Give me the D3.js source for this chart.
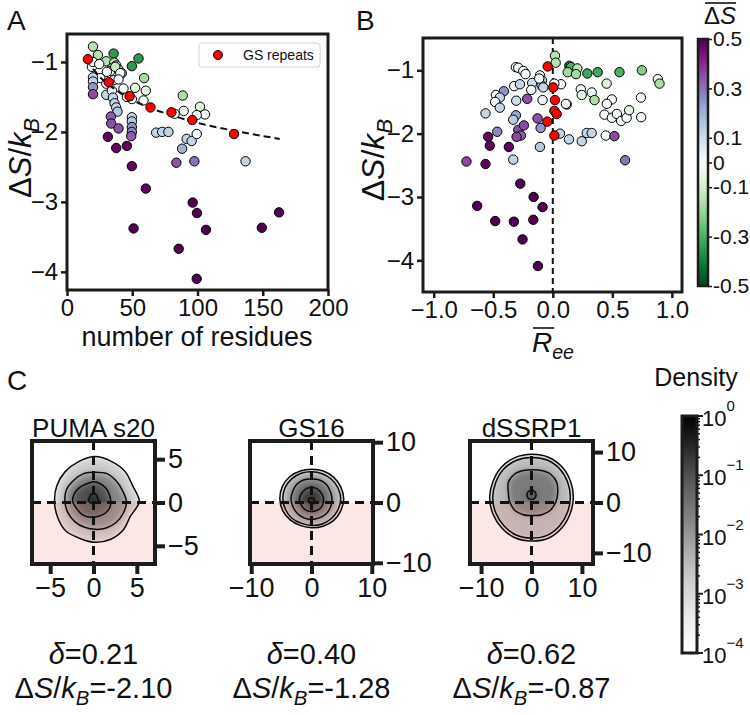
<!DOCTYPE html>
<html><head><meta charset="utf-8">
<script src="https://cdn.jsdelivr.net/npm/d3@7/dist/d3.min.js"></script>
<style>
html,body{margin:0;padding:0;background:#fff;}
svg text{font-family:"Liberation Sans",Arial,Helvetica,sans-serif;fill:#111;}
</style></head><body>
<svg id="chart" width="750" height="715"></svg>
<script>
// ================= DATA =================
// Panel A: [number of residues, ΔS/kB, colour value ΔS̄]
const pointsA = [
 [19.9,-0.78,-0.15],[23.7,-0.90,-0.15],[35.7,-0.88,-0.35],[54.8,-0.95,-0.35],[49.7,-1.06,-0.35],
 [30.1,-0.99,-0.15],[36.2,-1.01,-0.15],[37.7,-1.05,-0.15],[34.4,-1.09,-0.12],[33.1,-1.13,0],
 [39.5,-1.11,-0.15],[42.0,-1.16,-0.15],[59.1,-1.23,-0.18],[52.2,-1.37,-0.06],[60.4,-1.41,-0.06],
 [88.7,-1.48,-0.17],[101.9,-1.64,-0.07],[105.7,-1.75,0],[89.4,-1.70,0],[99.4,-1.76,0],
 [82.5,-1.74,0],[58.6,-1.55,0],[49.7,-1.53,0],[45.9,-1.50,0],[43.3,-1.38,0],
 [25.5,-1.23,0],[19.1,-1.07,0],[19.9,-1.00,0],[24.7,-1.03,0],[30.6,-1.14,0],
 [35.7,-1.26,0],[30.1,-1.31,0],[19.9,-1.22,0.12],[19.9,-1.28,0.12],[19.9,-1.36,0.25],
 [19.9,-1.46,0.36],[30.1,-1.47,0.12],[34.4,-1.41,0.02],[35.2,-1.51,0.12],[36.4,-1.59,0.12],
 [37.7,-1.65,0.12],[38.7,-1.71,0.15],[33.6,-1.78,0.33],[33.9,-1.88,0.35],[39.5,-1.95,0.35],
 [31.3,-2.07,0.48],[37.7,-2.23,0.48],[45.9,-2.20,0.48],[49.7,-1.79,0.12],[49.7,-1.85,0.15],
 [49.7,-1.93,0.25],[49.7,-2.00,0.27],[49.2,-2.06,0.33],[49.7,-2.49,0.48],[60.4,-2.81,0.48],
 [51.0,-3.38,0.5],[68.3,-2.01,0.12],[72.9,-2.00,0.12],[77.7,-2.00,0.12],[91.7,-2.10,0.12],
 [95.5,-2.13,0.12],[88.2,-2.24,0.2],[99.4,-2.03,0.02],[83.8,-2.44,0.35],[97.6,-2.42,0.3],
 [136.8,-2.42,0.12],[96.3,-3.01,0.5],[99.6,-3.16,0.5],[106.5,-3.40,0.5],[85.6,-3.67,0.5],
 [99.4,-4.10,0.5],[149.3,-3.37,0.5],[162.5,-3.15,0.5],[37.0,-1.07,-0.12],[40.8,-1.16,0],
 [39.5,-1.25,0.02]
];
// GS repeats (panel A)
const gsResidues = [16, 32, 48, 64, 80, 96, 128];
const gsDeltaSA  = [-0.96, -1.29, -1.49, -1.65, -1.72, -1.83, -2.03];
// dashed trend line
const fitResidues = [20, 25, 40, 60, 80, 100, 130, 163];
const fitDeltaS   = [-1.10, -1.21, -1.43, -1.63, -1.76, -1.87, -1.99, -2.10];

// Panel B: [mean Ree, ΔS/kB, colour value ΔS̄]
const pointsB = [
 [0.018,-0.77,-0.15],[0.024,-0.88,-0.15],[0.139,-0.93,-0.4],[0.153,-0.95,-0.3],[0.206,-0.97,-0.15],
 [0.125,-1.03,-0.18],[0.195,-1.06,-0.18],[0.29,-1.05,-0.32],[0.377,-1.03,-0.32],[0.56,-1.03,-0.3],
 [0.748,-1.00,-0.22],[0.882,-1.14,0],[0.896,-1.21,-0.17],[0.452,-1.21,-0.07],[0.235,-1.30,0],
 [0.243,-1.39,-0.06],[0.327,-1.35,0],[0.35,-1.47,-0.17],[0.496,-1.46,0],[0.454,-1.53,0],
 [0.74,-1.43,0],[0.434,-1.70,0],[0.496,-1.75,0],[0.538,-1.69,0],[0.574,-1.80,0.01],
 [0.62,-1.75,0],[0.641,-1.63,-0.06],[0.742,-1.74,0],[0.285,-1.99,0.12],[0.327,-1.99,0.12],
 [0.243,-2.12,0.12],[0.136,-2.09,0.12],[0.06,-2.00,0.12],[0.445,-2.03,0],[0.517,-2.04,0.36],
 [0.607,-2.42,0.3],[0.117,-1.54,0.12],[0.11,-1.53,0.03],[0.069,-1.22,0],[0.013,-1.21,0],
 [-0.31,-0.95,0],[-0.29,-0.96,0],[-0.248,-1.01,0],[-0.229,-1.06,0],[-0.173,-1.20,0.1],
 [-0.181,-1.31,0],[-0.108,-1.08,-0.07],[-0.091,-1.16,-0.15],[-0.094,-1.24,0.12],[-0.08,-1.27,0.12],
 [-0.114,-1.13,0],[-0.324,-1.25,0],[-0.276,-1.22,0.12],[-0.478,-1.39,0],[-0.411,-1.33,0.25],
 [-0.445,-1.43,0.12],[-0.484,-1.50,0],[-0.445,-1.59,0.12],[-0.565,-1.68,0.12],[-0.307,-1.48,0.1],
 [-0.215,-1.45,0.35],[-0.086,-1.47,0.03],[-0.31,-1.71,0.22],[-0.332,-1.78,0.14],[-0.128,-1.76,0.35],
 [-0.102,-1.91,0.25],[-0.29,-1.94,0.35],[-0.243,-1.87,0.36],[-0.268,-2.03,0.33],[-0.304,-2.05,0.36],
 [-0.467,-1.97,0.27],[-0.108,-2.21,0.15],[-0.332,-2.41,0.12],[-0.543,-2.05,0.48],[-0.529,-2.19,0.48],
 [-0.369,-2.21,0.48],[-0.725,-2.44,0.36],[-0.565,-2.48,0.48],[-0.273,-2.79,0.5],[-0.161,-3.00,0.5],
 [-0.086,-3.16,0.5],[-0.635,-3.14,0.5],[-0.484,-3.38,0.5],[-0.327,-3.39,0.5],[-0.164,-3.36,0.5],
 [-0.254,-3.67,0.5],[-0.125,-4.09,0.5]
];
const gsRee      = [-0.043, 0.004, 0.018, 0.013, 0.032, -0.046, 0.013];
const gsDeltaSB  = [-0.94, -1.27, -1.47, -1.64, -1.69, -1.81, -2.03];

// tick labels
const ticksAx = [0, 50, 100, 150, 200];
const ticksAy = [-1, -2, -3, -4];
const ticksBx = [-1.0, -0.5, 0.0, 0.5, 1.0];
const ticksBy = [-1, -2, -3, -4];
const sbarTicks = [0.5, 0.3, 0.1, 0, -0.1, -0.3, -0.5];
const sbarTickLabels = ["0.5", "0.3", "0.1", "0", "-0.1", "-0.3", "-0.5"];
const densityDecades = [-4, -3, -2, -1, 0];

// Panel C: density maps
const panelNames  = ["PUMA s20", "GS16", "dSSRP1"];
const panelRanges = [7.1, 10.2, 12.2];
const panelTicks  = [[-5, 0, 5], [-10, 0, 10], [-10, 0, 10]];
const deltaValues = ["0.21", "0.40", "0.62"];
const deltaSValues = ["-2.10", "-1.28", "-0.87"];
// contour radii (data units) at 16 angles (0° = +x, counter-clockwise), centre, density level
const pumaContours = [
 {c:[0.2,0.1], lev:1e-3, r:[5.1,4.7,4.9,5.0,5.2,5.0,4.9,4.8,4.7,4.7,4.8,4.6,4.7,4.7,4.6,4.4]},
 {c:[0.2,0.1], lev:1e-2, r:[3.6,3.4,3.4,3.5,3.4,3.5,3.5,3.6,3.5,3.4,3.3,3.2,3.2,3.3,3.4,3.5]},
 {c:[0.0,0.1], lev:6e-2, r:[2.0,2.0,2.1,2.2,2.3,2.2,2.3,2.4,2.4,2.1,2.0,1.9,1.8,1.8,1.9,2.0]},
 {c:[0.0,0.3], lev:0.3,  r:[0.6,0.5,0.6,0.7,0.8,0.7,0.6,0.5,0.6,0.5,0.5,0.4,0.5,0.4,0.5,0.6]}
];
const gs16Contours = [
 {c:[0.05,0.6], lev:1e-3, r:[5.3,5.2,5.1,5.0,4.9,5.0,5.2,5.3,5.3,5.2,5.0,4.8,4.8,4.9,5.1,5.2]},
 {c:[0.05,0.6], lev:3e-3, r:[4.8,4.7,4.6,4.5,4.5,4.6,4.7,4.8,4.8,4.7,4.6,4.4,4.4,4.5,4.6,4.7]},
 {c:[0.0,0.5],  lev:2e-2, r:[3.4,3.4,3.5,3.5,3.4,3.5,3.5,3.4,3.4,3.3,3.3,3.3,3.3,3.3,3.4,3.4]},
 {c:[0.0,0.4],  lev:0.1,  r:[2.0,2.0,2.0,2.1,2.1,2.1,2.0,2.0,2.0,1.9,1.9,1.9,1.9,1.9,2.0,2.0]},
 {c:[0.0,0.3],  lev:0.4,  r:[0.5,0.5,0.5,0.5,0.5,0.5,0.5,0.5,0.5,0.5,0.5,0.5,0.5,0.5,0.5,0.5]}
];
const dssrpContours = [
 {c:[0.0,0.95], lev:1e-3, r:[8.3,8.4,8.6,8.7,8.6,8.6,8.5,8.3,8.3,8.3,8.4,8.6,8.6,8.7,8.5,8.3]},
 {c:[0.0,0.95], lev:2e-3, r:[7.7,7.8,8.0,8.1,8.0,8.0,7.9,7.7,7.7,7.7,7.8,8.0,8.0,8.1,7.9,7.7]},
 {c:[0.2,2.0],  lev:1.5e-2, r:[5.0,5.2,5.1,4.7,4.5,4.7,5.1,5.2,4.8,4.9,5.0,4.8,4.6,4.8,5.0,5.0]},
 {c:[0.0,1.5],  lev:0.12, r:[0.9,0.9,0.9,0.9,0.9,0.9,0.9,0.9,0.9,0.9,0.9,0.9,0.9,0.9,0.9,0.9]}
];
const panelContours = [pumaContours, gs16Contours, dssrpContours];

// ================= DRAWING =================
const svg = d3.select("#chart");
const defs = svg.append("defs");
const INK = "#1c1c1c";

function rich(g, x, y, size, anchor, parts) {
  const t = g.append("text").attr("x", x).attr("y", y).attr("font-size", size).attr("text-anchor", anchor);
  let shift = 0;
  parts.forEach(p => {
    const sp = t.append("tspan").text(p.t);
    if (p.i) sp.attr("font-style", "italic");
    const target = p.sub ? 0.25 : (p.sup ? -0.62 : 0);
    if (p.sub || p.sup) sp.attr("font-size", size * 0.7);
    const dy = (target - shift) * size;
    if (dy !== 0) sp.attr("dy", dy);
    shift = target;
  });
  return t;
}
const dSkB = [{t:"Δ"},{t:"S",i:true},{t:"/"},{t:"k",i:true},{t:"B",i:true,sub:true}];

const sColor = v => v >= 0 ? d3.interpolateBuPu(Math.min(1, v / 0.5)) : d3.interpolateGreens(Math.min(1, -v / 0.5));

function frame(g, x0, y0, x1, y1, w) {
  g.append("rect").attr("x", x0).attr("y", y0).attr("width", x1 - x0).attr("height", y1 - y0)
    .attr("fill", "none").attr("stroke", INK).attr("stroke-width", w);
}
function styleAxis(ax, w) {
  ax.select(".domain").remove();
  ax.selectAll(".tick line").attr("stroke", INK).attr("stroke-width", w);
  ax.selectAll(".tick text").attr("fill", "#111").attr("font-family", null);
}
const intFmt = d3.format("d");

// ---------- Panel A ----------
const A = {x0: 67, x1: 328, y0: 34, y1: 290};
const xA = d3.scaleLinear().domain([0, 200]).range([A.x0, A.x1]);
const yA = d3.scaleLinear().domain([-4.26, -0.6]).range([A.y1, A.y0]);
const gA = svg.append("g");
gA.append("g").selectAll("circle").data(pointsA).join("circle")
  .attr("cx", d => xA(d[0])).attr("cy", d => yA(d[1])).attr("r", 4.7)
  .attr("fill", d => sColor(d[2])).attr("stroke", "#000").attr("stroke-width", 1);
gA.append("path").datum(fitResidues.map((n, i) => [n, fitDeltaS[i]]))
  .attr("d", d3.line().x(d => xA(d[0])).y(d => yA(d[1])).curve(d3.curveMonotoneX))
  .attr("fill", "none").attr("stroke", "#111").attr("stroke-width", 2).attr("stroke-dasharray", "7,4");
gA.append("g").selectAll("circle").data(gsResidues).join("circle")
  .attr("cx", d => xA(d)).attr("cy", (d, i) => yA(gsDeltaSA[i])).attr("r", 4.7)
  .attr("fill", "#ff0000").attr("stroke", "#000").attr("stroke-width", 1);
let ax = gA.append("g").attr("transform", `translate(0,${A.y1})`)
  .call(d3.axisBottom(xA).tickValues(ticksAx).tickSize(6).tickPadding(3));
styleAxis(ax, 2.5); ax.selectAll("text").attr("font-size", 24);
ax = gA.append("g").attr("transform", `translate(${A.x0},0)`)
  .call(d3.axisLeft(yA).tickValues(ticksAy).tickFormat(intFmt).tickSize(6).tickPadding(3));
styleAxis(ax, 2.5); ax.selectAll("text").attr("font-size", 24);
frame(gA, A.x0, A.y0, A.x1, A.y1, 3);
// legend
gA.append("rect").attr("x", 199).attr("y", 43).attr("width", 121).attr("height", 24).attr("rx", 3)
  .attr("fill", "#fff").attr("stroke", "#d4d4d4").attr("stroke-width", 1);
gA.append("circle").attr("cx", 218).attr("cy", 55).attr("r", 4.5).attr("fill", "#ff0000").attr("stroke", "#000");
gA.append("text").attr("x", 243).attr("y", 60).attr("font-size", 14).text("GS repeats");
gA.append("text").attr("x", 197).attr("y", 346).attr("font-size", 27).attr("text-anchor", "middle").text("number of residues");
rich(gA.append("g").attr("transform", "translate(31,158) rotate(-90)"), 0, 0, 31, "middle", dSkB);
svg.append("text").attr("x", 7).attr("y", 30).attr("font-size", 28).text("A");

// ---------- Panel B ----------
const B = {x0: 423, x1: 682, y0: 38, y1: 292};
const xB = d3.scaleLinear().domain([-1.09, 1.085]).range([B.x0, B.x1]);
const yB = d3.scaleLinear().domain([-4.5, -0.49]).range([B.y1, B.y0]);
const gB = svg.append("g");
gB.append("line").attr("x1", xB(0)).attr("x2", xB(0)).attr("y1", B.y0).attr("y2", B.y1)
  .attr("stroke", "#111").attr("stroke-width", 2).attr("stroke-dasharray", "6,4");
gB.append("g").selectAll("circle").data(pointsB).join("circle")
  .attr("cx", d => xB(d[0])).attr("cy", d => yB(d[1])).attr("r", 4.7)
  .attr("fill", d => sColor(d[2])).attr("stroke", "#000").attr("stroke-width", 1);
gB.append("g").selectAll("circle").data(gsRee).join("circle")
  .attr("cx", d => xB(d)).attr("cy", (d, i) => yB(gsDeltaSB[i])).attr("r", 4.7)
  .attr("fill", "#ff0000").attr("stroke", "#000").attr("stroke-width", 1);
ax = gB.append("g").attr("transform", `translate(0,${B.y1})`)
  .call(d3.axisBottom(xB).tickValues(ticksBx).tickFormat(d3.format(".1f")).tickSize(6).tickPadding(3));
styleAxis(ax, 2.5); ax.selectAll("text").attr("font-size", 24);
ax = gB.append("g").attr("transform", `translate(${B.x0},0)`)
  .call(d3.axisLeft(yB).tickValues(ticksBy).tickFormat(intFmt).tickSize(6).tickPadding(3));
styleAxis(ax, 2.5); ax.selectAll("text").attr("font-size", 24);
frame(gB, B.x0, B.y0, B.x1, B.y1, 3);
rich(gB.append("g").attr("transform", "translate(384,160) rotate(-90)"), 0, 0, 32, "middle", dSkB);
// x label: R̄ee
const rl = rich(gB, 553, 352, 28, "middle", [{t:"R",i:true},{t:"ee",i:true,sub:true}]);
{
  const e = rl.node().getExtentOfChar(0);
  gB.append("line").attr("x1", e.x + 1).attr("x2", e.x + e.width + 2).attr("y1", e.y + 1).attr("y2", e.y + 1)
    .attr("stroke", "#111").attr("stroke-width", 1.6);
}
svg.append("text").attr("x", 356).attr("y", 30).attr("font-size", 28).text("B");

// colourbar ΔS̄
const cb = {x0: 698, x1: 708, y0: 39, y1: 286};
const yCb = d3.scaleLinear().domain([-0.5, 0.5]).range([cb.y1, cb.y0]);
const gradS = defs.append("linearGradient").attr("id", "gradS").attr("x1", 0).attr("x2", 0).attr("y1", 0).attr("y2", 1);
d3.range(0, 1.0001, 0.02).forEach(t => gradS.append("stop").attr("offset", t).attr("stop-color", sColor(0.5 - t)));
svg.append("rect").attr("x", cb.x0).attr("y", cb.y0).attr("width", cb.x1 - cb.x0).attr("height", cb.y1 - cb.y0).attr("fill", "url(#gradS)");
ax = svg.append("g").attr("transform", `translate(${cb.x1},0)`)
  .call(d3.axisRight(yCb).tickValues(sbarTicks).tickFormat((d, i) => sbarTickLabels[i]).tickSize(4).tickPadding(1));
styleAxis(ax, 1.5); ax.selectAll("text").attr("font-size", 21);
frame(svg, cb.x0, cb.y0, cb.x1, cb.y1, 2.5);
const sl = rich(svg, 704, 24, 24, "start", [{t:"Δ"},{t:"S",i:true}]);
{
  const bb = sl.node().getBBox();
  svg.append("line").attr("x1", bb.x + 1).attr("x2", bb.x + bb.width).attr("y1", 3).attr("y2", 3)
    .attr("stroke", "#111").attr("stroke-width", 1.6);
}

// ---------- Panel C ----------
svg.append("text").attr("x", 7).attr("y", 390).attr("font-size", 28).text("C");
const greyScale = d3.scaleLog().domain([1e-4, 1]).range([0, 1]).clamp(true);
const boxLefts = [32, 250, 470];
const boxTop = 441, boxSize = 123;
const blur = defs.append("filter").attr("id", "blur").attr("x", "-20%").attr("y", "-20%").attr("width", "140%").attr("height", "140%");
blur.append("feGaussianBlur").attr("stdDeviation", 3.2);

panelNames.forEach((name, k) => {
  const R = panelRanges[k];
  const x0 = boxLefts[k], x1 = x0 + boxSize, y0 = boxTop, y1 = boxTop + boxSize;
  const sx = d3.scaleLinear().domain([-R, R]).range([x0, x1]);
  const sy = d3.scaleLinear().domain([-R, R]).range([y1, y0]);
  const g = svg.append("g");
  const clipId = "clip" + k;
  defs.append("clipPath").attr("id", clipId).append("rect").attr("x", x0).attr("y", y0).attr("width", boxSize).attr("height", boxSize);
  const line = d3.line().x(d => sx(d[0])).y(d => sy(d[1])).curve(d3.curveCardinalClosed.tension(0.2));
  const shape = ct => ct.r.map((r, j) => {
    const a = j / ct.r.length * 2 * Math.PI;
    return [ct.c[0] + r * Math.cos(a), ct.c[1] + r * Math.sin(a)];
  });
  const conts = panelContours[k];
  const outerId = "outer" + k;
  defs.append("clipPath").attr("id", outerId).append("path").attr("d", line(shape(conts[0])));
  const inner = g.append("g").attr("clip-path", `url(#${clipId})`);
  const fills = inner.append("g").attr("clip-path", `url(#${outerId})`).append("g").attr("filter", "url(#blur)");
  conts.forEach(ct => {
    fills.append("path").attr("d", line(shape(ct))).attr("fill", d3.interpolateGreys(greyScale(ct.lev * 1.6)));
  });
  // pink half-plane y < 0
  inner.append("rect").attr("x", x0).attr("y", sy(0)).attr("width", boxSize).attr("height", y1 - sy(0))
    .attr("fill", "#f29b9b").attr("opacity", 0.24);
  conts.forEach(ct => {
    inner.append("path").attr("d", line(shape(ct))).attr("fill", "none").attr("stroke", "#0a0a0a").attr("stroke-width", 1.5);
  });
  inner.append("line").attr("x1", sx(0)).attr("x2", sx(0)).attr("y1", y0).attr("y2", y1)
    .attr("stroke", "#111").attr("stroke-width", 3).attr("stroke-dasharray", "9,6");
  inner.append("line").attr("x1", x0).attr("x2", x1).attr("y1", sy(0)).attr("y2", sy(0))
    .attr("stroke", "#111").attr("stroke-width", 3).attr("stroke-dasharray", "9,6");
  let a = g.append("g").attr("transform", `translate(0,${y1})`)
    .call(d3.axisBottom(sx).tickValues(panelTicks[k]).tickSize(10).tickPadding(4));
  styleAxis(a, 4); a.selectAll("text").attr("font-size", 27);
  a = g.append("g").attr("transform", `translate(${x1},0)`)
    .call(d3.axisRight(sy).tickValues(panelTicks[k]).tickSize(10).tickPadding(3));
  styleAxis(a, 4); a.selectAll("text").attr("font-size", 27);
  frame(g, x0, y0, x1, y1, 4);
  const cx = (x0 + x1) / 2;
  g.append("text").attr("x", cx).attr("y", 437).attr("font-size", 26).attr("text-anchor", "middle").text(name);
  rich(g, cx, 664, 29, "middle", [{t:"δ",i:true},{t:"=" + deltaValues[k]}]);
  rich(g, cx, 698, 29, "middle", dSkB.concat([{t:"=" + deltaSValues[k]}]));
});

// density colourbar
const dcb = {x0: 682, x1: 697, y0: 416, y1: 653};
const yD = d3.scaleLog().domain([1e-4, 1]).range([dcb.y1, dcb.y0]);
const gradD = defs.append("linearGradient").attr("id", "gradD").attr("x1", 0).attr("x2", 0).attr("y1", 1).attr("y2", 0);
d3.range(0, 1.0001, 0.05).forEach(t => gradD.append("stop").attr("offset", t).attr("stop-color", d3.interpolateGreys(t)));
svg.append("rect").attr("x", dcb.x0).attr("y", dcb.y0).attr("width", dcb.x1 - dcb.x0).attr("height", dcb.y1 - dcb.y0).attr("fill", "url(#gradD)");
const minor = [];
densityDecades.slice(0, -1).forEach(e => d3.range(2, 10).forEach(m => minor.push(m * Math.pow(10, e))));
svg.append("g").selectAll("line").data(minor).join("line")
  .attr("x1", dcb.x1).attr("x2", dcb.x1 + 3).attr("y1", d => yD(d)).attr("y2", d => yD(d))
  .attr("stroke", INK).attr("stroke-width", 1.5);
densityDecades.forEach(e => {
  const y = yD(Math.pow(10, e));
  svg.append("line").attr("x1", dcb.x1).attr("x2", dcb.x1 + 6).attr("y1", y).attr("y2", y).attr("stroke", INK).attr("stroke-width", 2);
  const t = svg.append("text").attr("x", dcb.x1 + 5).attr("y", y + 10).attr("font-size", 22);
  t.append("tspan").text("10");
  t.append("tspan").attr("font-size", 15).attr("dy", -15).text(e === 0 ? "0" : "−" + (-e));
});
frame(svg, dcb.x0, dcb.y0, dcb.x1, dcb.y1, 3);
svg.append("text").attr("x", 696).attr("y", 386).attr("font-size", 25).attr("text-anchor", "middle").text("Density");
</script></body></html>
